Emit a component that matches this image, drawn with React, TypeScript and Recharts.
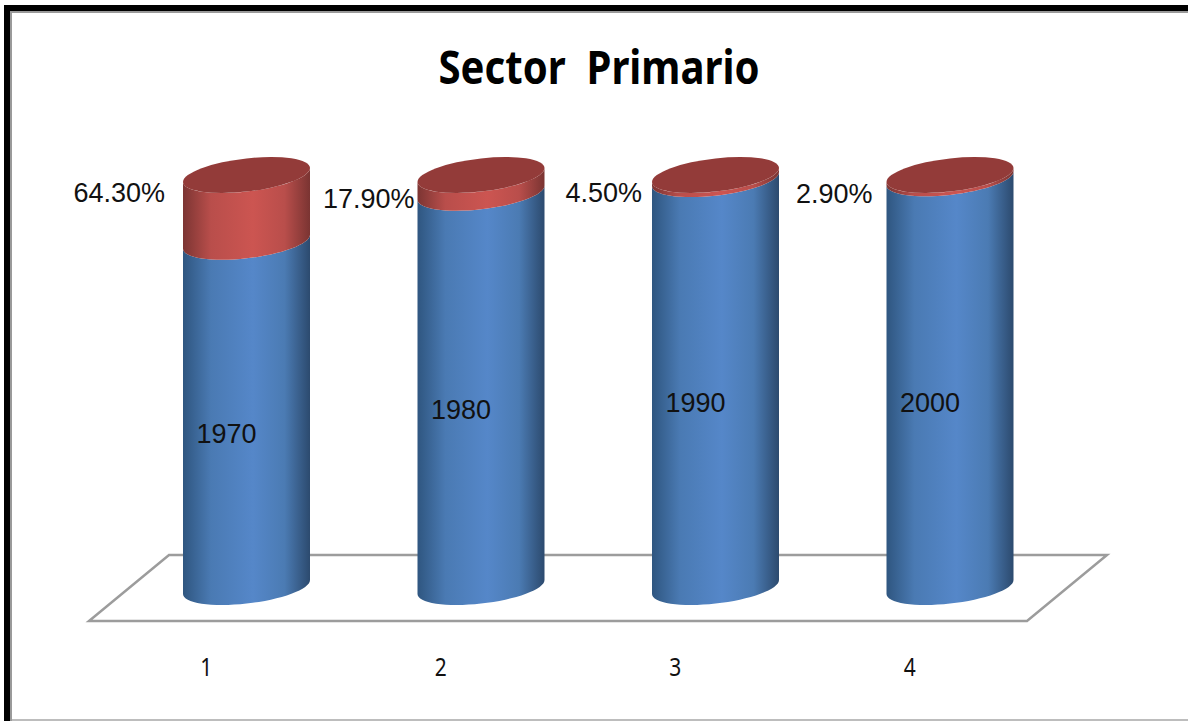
import { BarChart, Bar, XAxis, YAxis, LabelList } from "recharts";

const categories = ["1", "2", "3", "4"];
const years = ["1970", "1980", "1990", "2000"];
const pctLabels = ["64.30%", "17.90%", "4.50%", "2.90%"];
// share of the column height
const redShare = [16.2, 4.3, 1.0, 0.8];
const blueShare = [83.8, 95.7, 99.0, 99.2];

// hand placement of the % labels, they don't sit evenly in the original
const PCT_GAP = [18, 3, 10, 14];
const PCT_DROP = [17, 23, 17, 18];

const W = 1188;
const H = 721;
const TILT = 7;
const RY = 16.6;
const FONT = "'Liberation Sans', Arial, sans-serif";

const data = categories.map((c, i) => ({
  name: c,
  year: years[i],
  pct: pctLabels[i],
  blue: blueShare[i],
  red: redShare[i],
}));

// lower half of the tilted ellipse, left to right
function lowerEdge(x: number, w: number, cy: number) {
  const pts: string[] = [];
  for (let i = 0; i <= 32; i++) {
    const t = Math.PI - (i / 32) * Math.PI;
    const px = x + w / 2 + (w / 2) * Math.cos(t);
    const py = cy - TILT * Math.cos(t) + RY * Math.sin(t);
    pts.push(`${px.toFixed(1)} ${py.toFixed(1)}`);
  }
  return pts;
}

function cylinderPath(x: number, y: number, w: number, h: number) {
  const top = lowerEdge(x, w, y).reverse();
  const bottom = lowerEdge(x, w, y + h);
  return `M${bottom.join(" L")} L${top.join(" L")} Z`;
}

function BlueBody(props: any) {
  const { x, y, width, height } = props;
  return <path d={cylinderPath(x, y, width, height)} fill="url(#blueSide)" />;
}

function RedBody(props: any) {
  const { x, y, width, height } = props;
  const cx = x + width / 2;
  return (
    <g>
      <path d={cylinderPath(x, y, width, height)} fill="url(#redSide)" />
      <ellipse
        cx={0}
        cy={0}
        rx={width / 2}
        ry={RY}
        fill="#933b39"
        transform={`matrix(1,${-TILT / (width / 2)},0,1,${cx},${y})`}
      />
    </g>
  );
}

function YearLabel(props: any) {
  const { x, y, width, height, value } = props;
  return (
    <text x={x + width / 2 - 20} y={y + height / 2 + 20} dy={9} textAnchor="middle" fontSize={27} fontFamily={FONT} fill="#111">
      {value}
    </text>
  );
}

function PctLabel(props: any) {
  const { x, y, value, index } = props;
  return (
    <text x={x - PCT_GAP[index]} y={y + PCT_DROP[index]} dy={10} textAnchor="end" fontSize={27} fontFamily={FONT} fill="#111">
      {value}
    </text>
  );
}

function AxisTick(props: any) {
  const { x, y, payload } = props;
  return (
    <text
      x={x - 40}
      y={y + 81}
      textAnchor="middle"
      fontSize={25}
      fontFamily="'Noto Sans', sans-serif"
      fill="#111"
      textLength={12}
      lengthAdjust="spacingAndGlyphs"
    >
      {payload.value}
    </text>
  );
}

export default function App() {
  return (
    <div style={{ position: "absolute", left: 0, top: 0, width: W, height: H, background: "#fff", overflow: "hidden" }}>
      {/* Frame, title and floor */}
      <svg width={W} height={H} style={{ position: "absolute", left: 0, top: 0 }}>
        <rect x={4} y={5} width={W - 4} height={6} fill="#000" />
        <rect x={4} y={5} width={6} height={H - 5} fill="#000" />
        <rect x={10} y={11} width={W - 10} height={2} fill="#9a9a9a" />
        <rect x={10} y={11} width={2} height={H - 11} fill="#9a9a9a" />
        <rect x={12} y={719} width={W - 12} height={2} fill="#bdbdbd" />
        <text
          x={599}
          y={84}
          textAnchor="middle"
          fontSize={46}
          fontWeight={700}
          fontFamily="'Noto Sans', sans-serif"
          fill="#000"
          textLength={321}
          lengthAdjust="spacingAndGlyphs"
          xmlSpace="preserve"
        >
          Sector  Primario
        </text>
        <polygon points="89,621 1027,621 1107,555 169,555" fill="#fff" stroke="#9c9c9c" strokeWidth={2.5} />
      </svg>

      <div style={{ position: "absolute", left: 0, top: 0 }}>
        <BarChart
          width={W}
          height={H}
          data={data}
          barSize={127}
          margin={{ top: 175, right: 121, bottom: 74, left: 129 }}
        >
          <defs>
            <linearGradient id="blueSide" x1="0" y1="0" x2="1" y2="0">
              <stop offset="0%" stopColor="#2f5680" />
              <stop offset="22%" stopColor="#4a7ab3" />
              <stop offset="55%" stopColor="#5587c9" />
              <stop offset="80%" stopColor="#4b7bb3" />
              <stop offset="100%" stopColor="#2c4a6e" />
            </linearGradient>
            <linearGradient id="redSide" x1="0" y1="0" x2="1" y2="0">
              <stop offset="0%" stopColor="#7c3533" />
              <stop offset="22%" stopColor="#b94e4b" />
              <stop offset="55%" stopColor="#cc5551" />
              <stop offset="80%" stopColor="#b94e4b" />
              <stop offset="100%" stopColor="#7a3432" />
            </linearGradient>
          </defs>
          <XAxis dataKey="name" axisLine={false} tickLine={false} height={60} tick={<AxisTick />} interval={0} />
          <YAxis hide domain={[0, 100]} />
          <Bar dataKey="blue" stackId="a" shape={<BlueBody />} isAnimationActive={false}>
            <LabelList dataKey="year" content={<YearLabel />} />
          </Bar>
          <Bar dataKey="red" stackId="a" shape={<RedBody />} isAnimationActive={false}>
            <LabelList dataKey="pct" content={<PctLabel />} />
          </Bar>
        </BarChart>
      </div>
    </div>
  );
}
